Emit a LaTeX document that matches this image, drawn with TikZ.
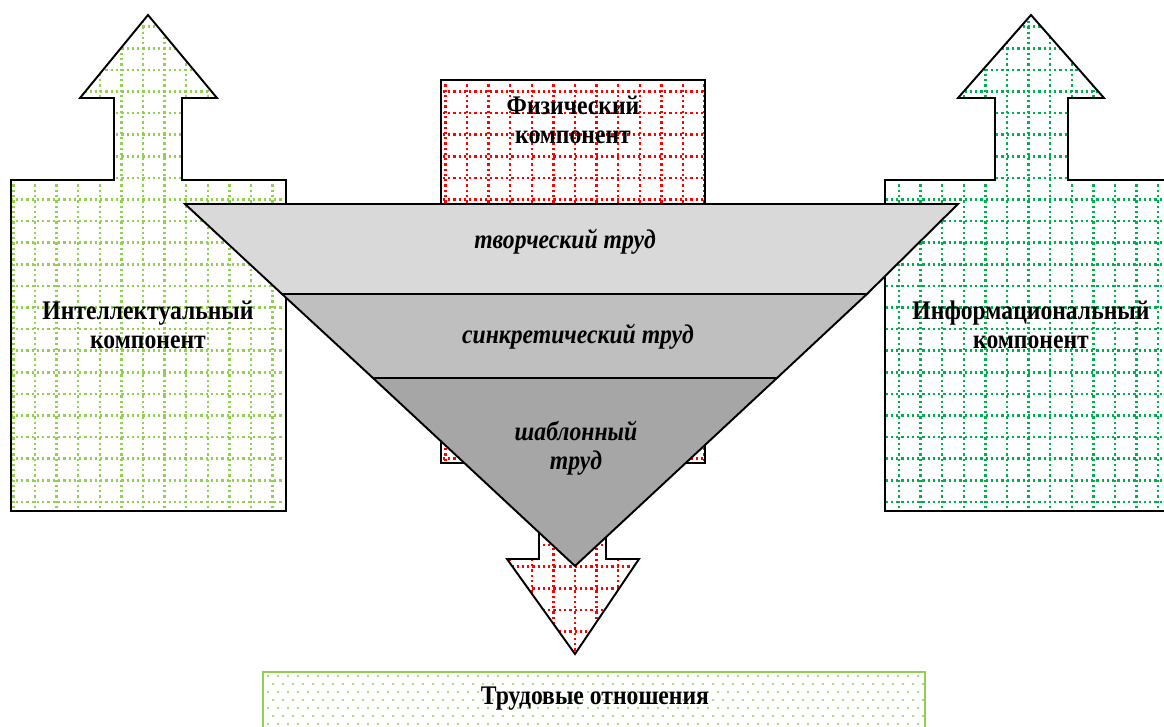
\documentclass[tikz,border=0pt]{standalone}
\usepackage{fontspec}
\setmainfont{Liberation Serif}[FakeStretch=0.88]
\usepackage{tikz}
\usetikzlibrary{calc}

\definecolor{lgreen}{HTML}{92D050}
\definecolor{dgreen}{HTML}{00B050}
\definecolor{gridred}{HTML}{FF0000}
\definecolor{bandtop}{HTML}{D9D9D9}
\definecolor{bandmid}{HTML}{BFBFBF}
\definecolor{bandlow}{HTML}{A6A6A6}

% dotted grid used as fill of the arrows
\newcommand{\dotgrid}[1]{%
\foreach \gx in {13.4,35,...,1190} \draw[dotline,#1] (\gx,0) -- (\gx,727);
\foreach \gy in {5.1,26.7,...,730} \draw[dotline,#1] (0,\gy) -- (1190,\gy);
}

\begin{document}
\begin{tikzpicture}[x=0.02cm,y=-0.02cm,
  outline/.style={draw=black,line width=1.1pt,line join=miter},
  dotline/.style={line width=1.4pt,dash pattern=on 1.3pt off 1.7pt},
  lbl/.style={font=\fontsize{15.3pt}{16.4pt}\selectfont\bfseries,align=center,inner sep=0pt},
  bandlbl/.style={lbl,font=\fontsize{15.3pt}{16pt}\selectfont\bfseries\itshape}]

\clip (0,0) rectangle (1164,727);

% left arrow
\draw[outline,path picture={\dotgrid{lgreen}}] (148,15) -- (217,98) -- (182,98) -- (182,180) -- (286,180) -- (286,511)
  -- (11,511) -- (11,180) -- (114,180) -- (114,98) -- (80,98) -- cycle;

% right arrow
\draw[outline,path picture={\dotgrid{dgreen}}] (1031,15) -- (1104,98) -- (1068,98) -- (1068,180) -- (1177,180) -- (1177,511)
  -- (885,511) -- (885,180) -- (995,180) -- (995,98) -- (958,98) -- cycle;

% middle box and arrow down
\draw[outline,path picture={\dotgrid{gridred}}] (441,80) rectangle (705,463);
\draw[outline,path picture={\dotgrid{gridred}}] (539,463) -- (539,559) -- (507,559) -- (575,654) -- (639,559) -- (606,559) -- (606,463) -- cycle;

% the three layers
\draw[outline,fill=bandtop] (185,204) -- (958,204) -- (867,294) -- (282,294) -- cycle;
\draw[outline,fill=bandmid] (282,294) -- (867,294) -- (777,378) -- (373,378) -- cycle;
\draw[outline,fill=bandlow] (373,378) -- (777,378) -- (575,566) -- cycle;

% bottom box
\draw[draw=lgreen,line width=1.3pt,path picture={
  \foreach \r in {0,...,8}
  \foreach \c in {0,...,70}
  \fill[lgreen] ({258+10*\c+5*mod(\r,2)},{676+8*\r}) circle (1.1);
}] (263,672) rectangle (925,740);

\node[lbl] (physlabel) at (573,120) {Физический\\компонент};
\node[lbl] (intlabel) at (148,325) {Интеллектуальный\\компонент};
\node[lbl] (infolabel) at (1031,325) {Информациональный\\компонент};
\node[bandlbl] (creativelabel) at (565,242) {творческий труд};
\node[bandlbl] (syncretlabel) at (578,337) {синкретический труд};
\node[bandlbl,font=\fontsize{15.3pt}{16.4pt}\selectfont\bfseries\itshape] (templatelabel) at (576,448) {шаблонный\\труд};
\node[lbl] (relationslabel) at (595,699) {Трудовые отношения};

\end{tikzpicture}
\end{document}
